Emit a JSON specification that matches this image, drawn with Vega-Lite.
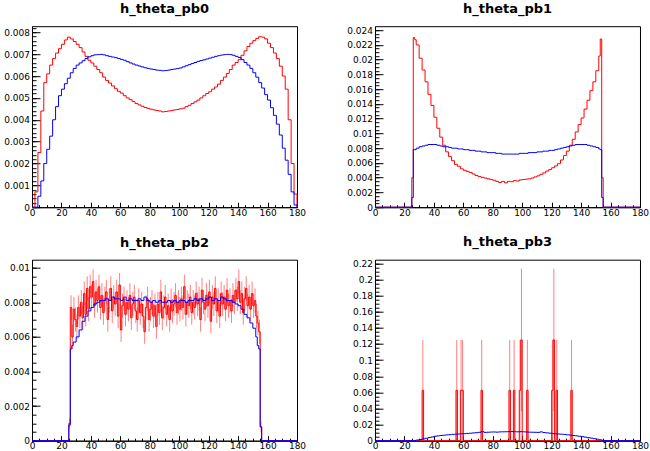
{
"$schema": "https://vega.github.io/schema/vega-lite/v6.json",
"padding": {"left": 3, "top": 2.2, "right": 0, "bottom": 0},
"background": "white",
"config": {
  "view": {"stroke": "#000", "strokeWidth": 1},
  "axis": {"grid": false, "labelFont": "DejaVu Sans", "labelFontSize": 9, "labelColor": "#000", "tickColor": "#000", "domainColor": "#000", "tickWidth": 1, "domainWidth": 1, "labelFlush": false, "labelOverlap": false},
  "title": {"font": "DejaVu Sans", "fontSize": 13, "fontWeight": "bold", "color": "#000", "offset": 10, "baseline": "alphabetic", "anchor": "middle"}
},
"datasets": {
  "p0r": [{"x":0,"y":0},{"x":2,"y":0.0007},{"x":4,"y":0.0025},{"x":6,"y":0.0044},{"x":8,"y":0.0057},{"x":10,"y":0.0061},{"x":12,"y":0.0065},{"x":14,"y":0.0068},{"x":16,"y":0.00705},{"x":18,"y":0.00725},{"x":20,"y":0.00745},{"x":22,"y":0.00765},{"x":24,"y":0.00778},{"x":26,"y":0.0077},{"x":28,"y":0.00758},{"x":30,"y":0.00745},{"x":32,"y":0.0073},{"x":34,"y":0.0071},{"x":36,"y":0.0069},{"x":38,"y":0.00672},{"x":40,"y":0.0066},{"x":42,"y":0.00645},{"x":44,"y":0.0063},{"x":46,"y":0.00615},{"x":48,"y":0.00595},{"x":50,"y":0.0058},{"x":52,"y":0.00568},{"x":54,"y":0.00555},{"x":56,"y":0.00542},{"x":58,"y":0.0053},{"x":60,"y":0.00522},{"x":62,"y":0.0051},{"x":64,"y":0.005},{"x":66,"y":0.00492},{"x":68,"y":0.00483},{"x":70,"y":0.00474},{"x":72,"y":0.00468},{"x":74,"y":0.00462},{"x":76,"y":0.00456},{"x":78,"y":0.00452},{"x":80,"y":0.00448},{"x":82,"y":0.00445},{"x":84,"y":0.00442},{"x":86,"y":0.0044},{"x":88,"y":0.00436},{"x":90,"y":0.00438},{"x":92,"y":0.0044},{"x":94,"y":0.00442},{"x":96,"y":0.00445},{"x":98,"y":0.00447},{"x":100,"y":0.0045},{"x":102,"y":0.00453},{"x":104,"y":0.0046},{"x":106,"y":0.00466},{"x":108,"y":0.00474},{"x":110,"y":0.00482},{"x":112,"y":0.0049},{"x":114,"y":0.005},{"x":116,"y":0.0051},{"x":118,"y":0.0052},{"x":120,"y":0.00528},{"x":122,"y":0.0054},{"x":124,"y":0.0055},{"x":126,"y":0.00563},{"x":128,"y":0.0058},{"x":130,"y":0.00595},{"x":132,"y":0.00612},{"x":134,"y":0.0063},{"x":136,"y":0.0065},{"x":138,"y":0.00662},{"x":140,"y":0.00675},{"x":142,"y":0.00695},{"x":144,"y":0.00715},{"x":146,"y":0.00735},{"x":148,"y":0.0075},{"x":150,"y":0.00762},{"x":152,"y":0.00772},{"x":154,"y":0.0078},{"x":156,"y":0.00778},{"x":158,"y":0.0077},{"x":160,"y":0.0075},{"x":162,"y":0.0073},{"x":164,"y":0.00705},{"x":166,"y":0.0068},{"x":168,"y":0.00645},{"x":170,"y":0.006},{"x":172,"y":0.0054},{"x":174,"y":0.004},{"x":176,"y":0.002},{"x":178,"y":0.0006},{"x":180,"y":0}],
  "p0b": [{"x":0,"y":0},{"x":2,"y":0},{"x":4,"y":0.0005},{"x":6,"y":0.0012},{"x":8,"y":0.002},{"x":10,"y":0.00265},{"x":12,"y":0.00325},{"x":14,"y":0.004},{"x":16,"y":0.0046},{"x":18,"y":0.0051},{"x":20,"y":0.0054},{"x":22,"y":0.00565},{"x":24,"y":0.0059},{"x":26,"y":0.00615},{"x":28,"y":0.00635},{"x":30,"y":0.0065},{"x":32,"y":0.0066},{"x":34,"y":0.0067},{"x":36,"y":0.0068},{"x":38,"y":0.00688},{"x":40,"y":0.00693},{"x":42,"y":0.00697},{"x":44,"y":0.00698},{"x":46,"y":0.00699},{"x":48,"y":0.00697},{"x":50,"y":0.00693},{"x":52,"y":0.0069},{"x":54,"y":0.00687},{"x":56,"y":0.00684},{"x":58,"y":0.0068},{"x":60,"y":0.00676},{"x":62,"y":0.00672},{"x":64,"y":0.00666},{"x":66,"y":0.0066},{"x":68,"y":0.00655},{"x":70,"y":0.0065},{"x":72,"y":0.00646},{"x":74,"y":0.00642},{"x":76,"y":0.00638},{"x":78,"y":0.00635},{"x":80,"y":0.00632},{"x":82,"y":0.0063},{"x":84,"y":0.00627},{"x":86,"y":0.00626},{"x":88,"y":0.00624},{"x":90,"y":0.00625},{"x":92,"y":0.00627},{"x":94,"y":0.0063},{"x":96,"y":0.00632},{"x":98,"y":0.00634},{"x":100,"y":0.00637},{"x":102,"y":0.00642},{"x":104,"y":0.00647},{"x":106,"y":0.00652},{"x":108,"y":0.00657},{"x":110,"y":0.00662},{"x":112,"y":0.00667},{"x":114,"y":0.00671},{"x":116,"y":0.00674},{"x":118,"y":0.00678},{"x":120,"y":0.00682},{"x":122,"y":0.00686},{"x":124,"y":0.0069},{"x":126,"y":0.00693},{"x":128,"y":0.00696},{"x":130,"y":0.00698},{"x":132,"y":0.00699},{"x":134,"y":0.00698},{"x":136,"y":0.00695},{"x":138,"y":0.0069},{"x":140,"y":0.00685},{"x":142,"y":0.00675},{"x":144,"y":0.00662},{"x":146,"y":0.0065},{"x":148,"y":0.00635},{"x":150,"y":0.00615},{"x":152,"y":0.00595},{"x":154,"y":0.0057},{"x":156,"y":0.00545},{"x":158,"y":0.00515},{"x":160,"y":0.0049},{"x":162,"y":0.00455},{"x":164,"y":0.0042},{"x":166,"y":0.0038},{"x":168,"y":0.0033},{"x":170,"y":0.0027},{"x":172,"y":0.00215},{"x":174,"y":0.0015},{"x":176,"y":0.0007},{"x":178,"y":0.0001},{"x":180,"y":0}],
  "p1r": [{"x":0,"y":0},{"x":25,"y":0.004},{"x":26,"y":0.023},{"x":27,"y":0.0227},{"x":28,"y":0.022},{"x":30,"y":0.0202},{"x":32,"y":0.0186},{"x":34,"y":0.017},{"x":36,"y":0.0153},{"x":38,"y":0.0138},{"x":40,"y":0.0122},{"x":42,"y":0.0107},{"x":44,"y":0.0095},{"x":46,"y":0.0084},{"x":48,"y":0.0075},{"x":50,"y":0.00685},{"x":52,"y":0.0063},{"x":54,"y":0.0058},{"x":56,"y":0.00555},{"x":58,"y":0.0052},{"x":60,"y":0.005},{"x":62,"y":0.00485},{"x":64,"y":0.0047},{"x":66,"y":0.0045},{"x":68,"y":0.0043},{"x":70,"y":0.00415},{"x":72,"y":0.00405},{"x":74,"y":0.00395},{"x":76,"y":0.00385},{"x":78,"y":0.00375},{"x":80,"y":0.00365},{"x":82,"y":0.0035},{"x":84,"y":0.00335},{"x":86,"y":0.0035},{"x":88,"y":0.0033},{"x":90,"y":0.0035},{"x":92,"y":0.00345},{"x":94,"y":0.0036},{"x":96,"y":0.00355},{"x":98,"y":0.0037},{"x":100,"y":0.00375},{"x":102,"y":0.0038},{"x":104,"y":0.00385},{"x":106,"y":0.00395},{"x":108,"y":0.0041},{"x":110,"y":0.00425},{"x":112,"y":0.00445},{"x":114,"y":0.00465},{"x":116,"y":0.0049},{"x":118,"y":0.0051},{"x":120,"y":0.00535},{"x":122,"y":0.0056},{"x":124,"y":0.0059},{"x":126,"y":0.0064},{"x":128,"y":0.007},{"x":130,"y":0.0076},{"x":132,"y":0.0084},{"x":134,"y":0.0092},{"x":136,"y":0.0102},{"x":138,"y":0.0112},{"x":140,"y":0.0121},{"x":142,"y":0.0133},{"x":144,"y":0.0145},{"x":146,"y":0.0158},{"x":148,"y":0.017},{"x":150,"y":0.0185},{"x":152,"y":0.0205},{"x":153,"y":0.0228},{"x":154,"y":0.004},{"x":155,"y":0},{"x":180,"y":0}],
  "p1b": [{"x":0,"y":0},{"x":25,"y":0.0013},{"x":26,"y":0.0078},{"x":28,"y":0.008},{"x":30,"y":0.0082},{"x":32,"y":0.0083},{"x":34,"y":0.0084},{"x":36,"y":0.0085},{"x":38,"y":0.0085},{"x":40,"y":0.0085},{"x":42,"y":0.0084},{"x":44,"y":0.0083},{"x":46,"y":0.0082},{"x":48,"y":0.0082},{"x":50,"y":0.0081},{"x":52,"y":0.008},{"x":54,"y":0.008},{"x":56,"y":0.0079},{"x":58,"y":0.0079},{"x":60,"y":0.0078},{"x":62,"y":0.0078},{"x":64,"y":0.0077},{"x":66,"y":0.0077},{"x":68,"y":0.0076},{"x":70,"y":0.0076},{"x":72,"y":0.0075},{"x":74,"y":0.0075},{"x":76,"y":0.0074},{"x":78,"y":0.0074},{"x":80,"y":0.0074},{"x":82,"y":0.0073},{"x":84,"y":0.0073},{"x":86,"y":0.0072},{"x":88,"y":0.0072},{"x":90,"y":0.0072},{"x":92,"y":0.0072},{"x":94,"y":0.0072},{"x":96,"y":0.0072},{"x":98,"y":0.0073},{"x":100,"y":0.0073},{"x":102,"y":0.0073},{"x":104,"y":0.0074},{"x":106,"y":0.0074},{"x":108,"y":0.0074},{"x":110,"y":0.0075},{"x":112,"y":0.0075},{"x":114,"y":0.0076},{"x":116,"y":0.0076},{"x":118,"y":0.0077},{"x":120,"y":0.0077},{"x":122,"y":0.0078},{"x":124,"y":0.0079},{"x":126,"y":0.008},{"x":128,"y":0.0081},{"x":130,"y":0.0082},{"x":132,"y":0.0083},{"x":134,"y":0.0084},{"x":136,"y":0.0085},{"x":138,"y":0.0085},{"x":140,"y":0.0085},{"x":142,"y":0.0085},{"x":144,"y":0.0084},{"x":146,"y":0.0083},{"x":148,"y":0.0082},{"x":150,"y":0.0081},{"x":152,"y":0.0079},{"x":153,"y":0.0078},{"x":154,"y":0.0013},{"x":155,"y":0},{"x":180,"y":0}],
  "p2b": [{"x":0,"y":0},{"x":25,"y":0.0009},{"x":26,"y":0.0053},{"x":27,"y":0.0055},{"x":28,"y":0.0057},{"x":30,"y":0.006},{"x":32,"y":0.0064},{"x":34,"y":0.0069},{"x":36,"y":0.0072},{"x":38,"y":0.0075},{"x":40,"y":0.0077},{"x":42,"y":0.0079},{"x":44,"y":0.008},{"x":46,"y":0.0081},{"x":48,"y":0.0081},{"x":50,"y":0.0082},{"x":52,"y":0.0081},{"x":54,"y":0.0083},{"x":56,"y":0.0082},{"x":58,"y":0.0082},{"x":60,"y":0.0081},{"x":62,"y":0.0083},{"x":64,"y":0.0081},{"x":66,"y":0.0082},{"x":68,"y":0.0081},{"x":70,"y":0.0081},{"x":72,"y":0.0082},{"x":74,"y":0.0081},{"x":76,"y":0.0083},{"x":78,"y":0.0081},{"x":80,"y":0.008},{"x":82,"y":0.0081},{"x":84,"y":0.008},{"x":86,"y":0.0081},{"x":88,"y":0.008},{"x":90,"y":0.008},{"x":92,"y":0.0081},{"x":94,"y":0.008},{"x":96,"y":0.0081},{"x":98,"y":0.008},{"x":100,"y":0.0081},{"x":102,"y":0.0081},{"x":104,"y":0.008},{"x":106,"y":0.0081},{"x":108,"y":0.0081},{"x":110,"y":0.0082},{"x":112,"y":0.0081},{"x":114,"y":0.0082},{"x":116,"y":0.0081},{"x":118,"y":0.0082},{"x":120,"y":0.0083},{"x":122,"y":0.0081},{"x":124,"y":0.0082},{"x":126,"y":0.0081},{"x":128,"y":0.0083},{"x":130,"y":0.0082},{"x":132,"y":0.0081},{"x":134,"y":0.0081},{"x":136,"y":0.008},{"x":138,"y":0.0079},{"x":140,"y":0.0078},{"x":142,"y":0.0076},{"x":144,"y":0.0073},{"x":146,"y":0.0071},{"x":148,"y":0.0068},{"x":150,"y":0.0065},{"x":152,"y":0.006},{"x":153,"y":0.0055},{"x":154,"y":0.0053},{"x":155,"y":0.0008},{"x":156,"y":0},{"x":180,"y":0}],
  "p2r": [{"x":0.5,"y":0,"e":0},{"x":24.5,"y":0,"e":0},{"x":25.5,"y":0.001,"e":0.0003},{"x":26.5,"y":0.0077,"e":0.0007},{"x":27.5,"y":0.006,"e":0.0007},{"x":28.5,"y":0.0076,"e":0.0007},{"x":29.5,"y":0.007,"e":0.0007},{"x":30.5,"y":0.0066,"e":0.0007},{"x":31.5,"y":0.0077,"e":0.0007},{"x":32.5,"y":0.0072,"e":0.0007},{"x":33.5,"y":0.008,"e":0.0007},{"x":34.5,"y":0.0071,"e":0.0007},{"x":35.5,"y":0.0085,"e":0.0007},{"x":36.5,"y":0.0073,"e":0.0007},{"x":37.5,"y":0.0088,"e":0.0007},{"x":38.5,"y":0.0076,"e":0.0007},{"x":39.5,"y":0.0089,"e":0.0007},{"x":40.5,"y":0.0083,"e":0.0007},{"x":41.5,"y":0.0092,"e":0.0007},{"x":42.5,"y":0.0078,"e":0.0007},{"x":43.5,"y":0.0086,"e":0.0007},{"x":44.5,"y":0.0081,"e":0.0007},{"x":45.5,"y":0.0089,"e":0.0007},{"x":46.5,"y":0.0077,"e":0.0007},{"x":47.5,"y":0.0084,"e":0.0007},{"x":48.5,"y":0.0074,"e":0.0007},{"x":49.5,"y":0.0082,"e":0.0007},{"x":50.5,"y":0.0086,"e":0.0007},{"x":51.5,"y":0.007,"e":0.0007},{"x":52.5,"y":0.0081,"e":0.0007},{"x":53.5,"y":0.0088,"e":0.0007},{"x":54.5,"y":0.0075,"e":0.0007},{"x":55.5,"y":0.0083,"e":0.0007},{"x":56.5,"y":0.0079,"e":0.0007},{"x":57.5,"y":0.0086,"e":0.0007},{"x":58.5,"y":0.0072,"e":0.0007},{"x":59.5,"y":0.009,"e":0.0007},{"x":60.5,"y":0.0064,"e":0.0007},{"x":61.5,"y":0.0078,"e":0.0007},{"x":62.5,"y":0.0082,"e":0.0007},{"x":63.5,"y":0.0073,"e":0.0007},{"x":64.5,"y":0.008,"e":0.0007},{"x":65.5,"y":0.0076,"e":0.0007},{"x":66.5,"y":0.0084,"e":0.0007},{"x":67.5,"y":0.0071,"e":0.0007},{"x":68.5,"y":0.0079,"e":0.0007},{"x":69.5,"y":0.0083,"e":0.0007},{"x":70.5,"y":0.0075,"e":0.0007},{"x":71.5,"y":0.007,"e":0.0007},{"x":72.5,"y":0.0081,"e":0.0007},{"x":73.5,"y":0.0074,"e":0.0007},{"x":74.5,"y":0.0079,"e":0.0007},{"x":75.5,"y":0.0072,"e":0.0007},{"x":76.5,"y":0.0063,"e":0.0007},{"x":77.5,"y":0.0077,"e":0.0007},{"x":78.5,"y":0.0082,"e":0.0007},{"x":79.5,"y":0.007,"e":0.0007},{"x":80.5,"y":0.0076,"e":0.0007},{"x":81.5,"y":0.008,"e":0.0007},{"x":82.5,"y":0.0072,"e":0.0007},{"x":83.5,"y":0.0078,"e":0.0007},{"x":84.5,"y":0.0066,"e":0.0007},{"x":85.5,"y":0.0079,"e":0.0007},{"x":86.5,"y":0.0074,"e":0.0007},{"x":87.5,"y":0.0086,"e":0.0007},{"x":88.5,"y":0.0071,"e":0.0007},{"x":89.5,"y":0.0077,"e":0.0007},{"x":90.5,"y":0.0083,"e":0.0007},{"x":91.5,"y":0.0073,"e":0.0007},{"x":92.5,"y":0.0078,"e":0.0007},{"x":93.5,"y":0.007,"e":0.0007},{"x":94.5,"y":0.0081,"e":0.0007},{"x":95.5,"y":0.0075,"e":0.0007},{"x":96.5,"y":0.0079,"e":0.0007},{"x":97.5,"y":0.0084,"e":0.0007},{"x":98.5,"y":0.0074,"e":0.0007},{"x":99.5,"y":0.008,"e":0.0007},{"x":100.5,"y":0.0076,"e":0.0007},{"x":101.5,"y":0.0082,"e":0.0007},{"x":102.5,"y":0.0077,"e":0.0007},{"x":103.5,"y":0.0089,"e":0.0007},{"x":104.5,"y":0.0073,"e":0.0007},{"x":105.5,"y":0.008,"e":0.0007},{"x":106.5,"y":0.0078,"e":0.0007},{"x":107.5,"y":0.0083,"e":0.0007},{"x":108.5,"y":0.0074,"e":0.0007},{"x":109.5,"y":0.008,"e":0.0007},{"x":110.5,"y":0.0077,"e":0.0007},{"x":111.5,"y":0.0085,"e":0.0007},{"x":112.5,"y":0.0079,"e":0.0007},{"x":113.5,"y":0.0082,"e":0.0007},{"x":114.5,"y":0.007,"e":0.0007},{"x":115.5,"y":0.0087,"e":0.0007},{"x":116.5,"y":0.008,"e":0.0007},{"x":117.5,"y":0.0076,"e":0.0007},{"x":118.5,"y":0.0084,"e":0.0007},{"x":119.5,"y":0.0078,"e":0.0007},{"x":120.5,"y":0.0086,"e":0.0007},{"x":121.5,"y":0.0069,"e":0.0007},{"x":122.5,"y":0.0083,"e":0.0007},{"x":123.5,"y":0.0079,"e":0.0007},{"x":124.5,"y":0.0088,"e":0.0007},{"x":125.5,"y":0.0075,"e":0.0007},{"x":126.5,"y":0.0081,"e":0.0007},{"x":127.5,"y":0.0072,"e":0.0007},{"x":128.5,"y":0.0085,"e":0.0007},{"x":129.5,"y":0.0079,"e":0.0007},{"x":130.5,"y":0.0083,"e":0.0007},{"x":131.5,"y":0.0076,"e":0.0007},{"x":132.5,"y":0.0087,"e":0.0007},{"x":133.5,"y":0.0078,"e":0.0007},{"x":134.5,"y":0.0081,"e":0.0007},{"x":135.5,"y":0.0075,"e":0.0007},{"x":136.5,"y":0.0084,"e":0.0007},{"x":137.5,"y":0.008,"e":0.0007},{"x":138.5,"y":0.0087,"e":0.0007},{"x":139.5,"y":0.0082,"e":0.0007},{"x":140.5,"y":0.0092,"e":0.0007},{"x":141.5,"y":0.008,"e":0.0007},{"x":142.5,"y":0.0085,"e":0.0007},{"x":143.5,"y":0.0074,"e":0.0007},{"x":144.5,"y":0.0082,"e":0.0007},{"x":145.5,"y":0.0088,"e":0.0007},{"x":146.5,"y":0.0078,"e":0.0007},{"x":147.5,"y":0.0083,"e":0.0007},{"x":148.5,"y":0.0076,"e":0.0007},{"x":149.5,"y":0.0085,"e":0.0007},{"x":150.5,"y":0.0078,"e":0.0007},{"x":151.5,"y":0.0081,"e":0.0007},{"x":152.5,"y":0.0072,"e":0.0007},{"x":153.5,"y":0.0068,"e":0.0007},{"x":154.5,"y":0.0063,"e":0.0007},{"x":155.5,"y":0.0008,"e":0.0003},{"x":156.5,"y":0,"e":0},{"x":179.5,"y":0,"e":0}],
  "p3r": [{"x":0,"y":0},{"x":32,"y":0.0625},{"x":33,"y":0},{"x":55,"y":0.0625},{"x":56,"y":0},{"x":58,"y":0.0625},{"x":60,"y":0},{"x":72,"y":0.0625},{"x":73,"y":0},{"x":91,"y":0.0625},{"x":92,"y":0},{"x":94,"y":0.0625},{"x":95,"y":0},{"x":98,"y":0.0625},{"x":99,"y":0.125},{"x":100,"y":0},{"x":103,"y":0.0625},{"x":104,"y":0},{"x":120,"y":0.0625},{"x":121,"y":0.125},{"x":122,"y":0},{"x":123,"y":0.0625},{"x":124,"y":0},{"x":133,"y":0.0625},{"x":134,"y":0},{"x":180,"y":0}],
  "p3e": [{"x":32.5,"y":0.0625,"e":0.0625},{"x":55.5,"y":0.0625,"e":0.0625},{"x":58.5,"y":0.0625,"e":0.0625},{"x":59.5,"y":0.0625,"e":0.0625},{"x":72.5,"y":0.0625,"e":0.0625},{"x":91.5,"y":0.0625,"e":0.0625},{"x":94.5,"y":0.0625,"e":0.0625},{"x":98.5,"y":0.0625,"e":0.0625},{"x":99.5,"y":0.125,"e":0.0884},{"x":103.5,"y":0.0625,"e":0.0625},{"x":120.5,"y":0.0625,"e":0.0625},{"x":121.5,"y":0.125,"e":0.0884},{"x":123.5,"y":0.0625,"e":0.0625},{"x":133.5,"y":0.0625,"e":0.0625}],
  "p3b": [{"x":0,"y":0},{"x":24,"y":0},{"x":26,"y":0.0003},{"x":28,"y":0.0008},{"x":30,"y":0.0015},{"x":32,"y":0.0022},{"x":34,"y":0.003},{"x":36,"y":0.0038},{"x":38,"y":0.0046},{"x":40,"y":0.0055},{"x":42,"y":0.006},{"x":44,"y":0.0064},{"x":46,"y":0.0068},{"x":48,"y":0.0072},{"x":50,"y":0.0075},{"x":52,"y":0.0078},{"x":54,"y":0.008},{"x":56,"y":0.0083},{"x":58,"y":0.0085},{"x":60,"y":0.0087},{"x":62,"y":0.009},{"x":64,"y":0.0093},{"x":66,"y":0.0096},{"x":68,"y":0.0099},{"x":70,"y":0.0104},{"x":72,"y":0.0112},{"x":74,"y":0.0103},{"x":76,"y":0.0105},{"x":78,"y":0.0107},{"x":80,"y":0.0108},{"x":82,"y":0.0106},{"x":84,"y":0.0109},{"x":86,"y":0.011},{"x":88,"y":0.0111},{"x":90,"y":0.0112},{"x":92,"y":0.0113},{"x":94,"y":0.0111},{"x":96,"y":0.011},{"x":98,"y":0.0112},{"x":100,"y":0.011},{"x":102,"y":0.0108},{"x":104,"y":0.0106},{"x":106,"y":0.0105},{"x":108,"y":0.0104},{"x":110,"y":0.0103},{"x":112,"y":0.0109},{"x":114,"y":0.0101},{"x":116,"y":0.0097},{"x":118,"y":0.0093},{"x":120,"y":0.0088},{"x":122,"y":0.0085},{"x":124,"y":0.0083},{"x":126,"y":0.008},{"x":128,"y":0.0077},{"x":130,"y":0.0073},{"x":132,"y":0.0069},{"x":134,"y":0.0064},{"x":136,"y":0.006},{"x":138,"y":0.0055},{"x":140,"y":0.005},{"x":142,"y":0.0044},{"x":144,"y":0.0038},{"x":146,"y":0.0032},{"x":148,"y":0.0025},{"x":150,"y":0.0019},{"x":152,"y":0.0012},{"x":154,"y":0.0004},{"x":156,"y":0},{"x":180,"y":0}]
},
"columns": 2,
"spacing": {"row": 52.5, "column": 78},
"bounds": "flush",
"concat": [
  {
    "width": 265, "height": 181,
    "title": {"text": "h_theta_pb0"},
    "resolve": {"axis": {"x": "independent", "y": "independent"}},
    "layer": [
      {"data": {"name": "p0r"}, "mark": {"type": "line", "interpolate": "step-after", "color": "#ff0000", "strokeWidth": 1},
       "encoding": {
         "x": {"field": "x", "type": "quantitative", "scale": {"domain": [0, 180], "nice": false, "zero": false}, "axis": {"orient": "bottom", "title": null, "values": [0,5,10,15,20,25,30,35,40,45,50,55,60,65,70,75,80,85,90,95,100,105,110,115,120,125,130,135,140,145,150,155,160,165,170,175,180], "labels": false, "domain": false, "tickSize": -2.5}},
         "y": {"field": "y", "type": "quantitative", "scale": {"domain": [0, 0.00828], "nice": false}, "axis": {"orient": "left", "title": null, "values": [0,0.0002,0.0004,0.0006,0.0008,0.001,0.0012,0.0014,0.0016,0.0018,0.002,0.0022,0.0024,0.0026,0.0028,0.003,0.0032,0.0034,0.0036,0.0038,0.004,0.0042,0.0044,0.0046,0.0048,0.005,0.0052,0.0054,0.0056,0.0058,0.006,0.0062,0.0064,0.0066,0.0068,0.007,0.0072,0.0074,0.0076,0.0078,0.008,0.0082], "labels": false, "domain": false, "tickSize": -4}}
       }},
      {"data": {"name": "p0b"}, "mark": {"type": "line", "interpolate": "step-after", "color": "#0000ff", "strokeWidth": 1},
       "encoding": {
         "x": {"field": "x", "type": "quantitative", "axis": {"orient": "bottom", "title": null, "values": [0,20,40,60,80,100,120,140,160,180], "tickSize": -5, "labelPadding": 6}},
         "y": {"field": "y", "type": "quantitative", "axis": {"orient": "left", "title": null, "values": [0,0.001,0.002,0.003,0.004,0.005,0.006,0.007,0.008], "format": "~g", "tickSize": -8, "labelPadding": 10.5}}
       }}
    ]
  },
  {
    "width": 265, "height": 181,
    "title": {"text": "h_theta_pb1"},
    "resolve": {"axis": {"x": "independent", "y": "independent"}},
    "layer": [
      {"data": {"name": "p1r"}, "mark": {"type": "line", "interpolate": "step-after", "color": "#ff0000", "strokeWidth": 1},
       "encoding": {
         "x": {"field": "x", "type": "quantitative", "scale": {"domain": [0, 180], "nice": false, "zero": false}, "axis": {"orient": "bottom", "title": null, "values": [0,5,10,15,20,25,30,35,40,45,50,55,60,65,70,75,80,85,90,95,100,105,110,115,120,125,130,135,140,145,150,155,160,165,170,175,180], "labels": false, "domain": false, "tickSize": -2.5}},
         "y": {"field": "y", "type": "quantitative", "scale": {"domain": [0, 0.02454], "nice": false}, "axis": {"orient": "left", "title": null, "values": [0,0.0005,0.001,0.0015,0.002,0.0025,0.003,0.0035,0.004,0.0045,0.005,0.0055,0.006,0.0065,0.007,0.0075,0.008,0.0085,0.009,0.0095,0.01,0.0105,0.011,0.0115,0.012,0.0125,0.013,0.0135,0.014,0.0145,0.015,0.0155,0.016,0.0165,0.017,0.0175,0.018,0.0185,0.019,0.0195,0.02,0.0205,0.021,0.0215,0.022,0.0225,0.023,0.0235,0.024], "labels": false, "domain": false, "tickSize": -4}}
       }},
      {"data": {"name": "p1b"}, "mark": {"type": "line", "interpolate": "step-after", "color": "#0000ff", "strokeWidth": 1},
       "encoding": {
         "x": {"field": "x", "type": "quantitative", "axis": {"orient": "bottom", "title": null, "values": [0,20,40,60,80,100,120,140,160,180], "tickSize": -5, "labelPadding": 6}},
         "y": {"field": "y", "type": "quantitative", "axis": {"orient": "left", "title": null, "values": [0,0.002,0.004,0.006,0.008,0.01,0.012,0.014,0.016,0.018,0.02,0.022,0.024], "format": "~g", "tickSize": -8, "labelPadding": 10.5}}
       }}
    ]
  },
  {
    "width": 265, "height": 181,
    "title": {"text": "h_theta_pb2"},
    "resolve": {"axis": {"x": "independent", "y": "independent"}},
    "layer": [
      {"data": {"name": "p2r"}, "mark": {"type": "errorbar", "color": "#ff8080"},
       "encoding": {
         "x": {"field": "x", "type": "quantitative", "scale": {"domain": [0, 180], "nice": false, "zero": false}, "axis": null},
         "y": {"field": "y", "type": "quantitative", "scale": {"domain": [0, 0.01046], "nice": false}, "axis": null},
         "yError": {"field": "e"}
       }},
      {"data": {"name": "p2r"}, "mark": {"type": "line", "interpolate": "step", "color": "#ff0000", "strokeWidth": 1},
       "encoding": {
         "x": {"field": "x", "type": "quantitative", "axis": {"orient": "bottom", "title": null, "values": [0,5,10,15,20,25,30,35,40,45,50,55,60,65,70,75,80,85,90,95,100,105,110,115,120,125,130,135,140,145,150,155,160,165,170,175,180], "labels": false, "domain": false, "tickSize": -2.5}},
         "y": {"field": "y", "type": "quantitative", "axis": {"orient": "left", "title": null, "values": [0,0.0005,0.001,0.0015,0.002,0.0025,0.003,0.0035,0.004,0.0045,0.005,0.0055,0.006,0.0065,0.007,0.0075,0.008,0.0085,0.009,0.0095,0.01], "labels": false, "domain": false, "tickSize": -4}}
       }},
      {"data": {"name": "p2b"}, "mark": {"type": "line", "interpolate": "step-after", "color": "#0000ff", "strokeWidth": 1},
       "encoding": {
         "x": {"field": "x", "type": "quantitative", "axis": {"orient": "bottom", "title": null, "values": [0,20,40,60,80,100,120,140,160,180], "tickSize": -5, "labelPadding": 6}},
         "y": {"field": "y", "type": "quantitative", "axis": {"orient": "left", "title": null, "values": [0,0.002,0.004,0.006,0.008,0.01], "format": "~g", "tickSize": -8, "labelPadding": 10.5}}
       }}
    ]
  },
  {
    "width": 265, "height": 181,
    "title": {"text": "h_theta_pb3"},
    "resolve": {"axis": {"x": "independent", "y": "independent"}},
    "layer": [
      {"data": {"name": "p3e"}, "mark": {"type": "errorbar", "color": "#ff8080"},
       "encoding": {
         "x": {"field": "x", "type": "quantitative", "scale": {"domain": [0, 180], "nice": false, "zero": false}, "axis": null},
         "y": {"field": "y", "type": "quantitative", "scale": {"domain": [0, 0.2245], "nice": false}, "axis": null},
         "yError": {"field": "e"}
       }},
      {"data": {"name": "p3r"}, "mark": {"type": "line", "interpolate": "step-after", "color": "#ff0000", "strokeWidth": 1},
       "encoding": {
         "x": {"field": "x", "type": "quantitative", "axis": {"orient": "bottom", "title": null, "values": [0,5,10,15,20,25,30,35,40,45,50,55,60,65,70,75,80,85,90,95,100,105,110,115,120,125,130,135,140,145,150,155,160,165,170,175,180], "labels": false, "domain": false, "tickSize": -2.5}},
         "y": {"field": "y", "type": "quantitative", "axis": {"orient": "left", "title": null, "values": [0,0.005,0.01,0.015,0.02,0.025,0.03,0.035,0.04,0.045,0.05,0.055,0.06,0.065,0.07,0.075,0.08,0.085,0.09,0.095,0.1,0.105,0.11,0.115,0.12,0.125,0.13,0.135,0.14,0.145,0.15,0.155,0.16,0.165,0.17,0.175,0.18,0.185,0.19,0.195,0.2,0.205,0.21,0.215,0.22], "labels": false, "domain": false, "tickSize": -4}}
       }},
      {"data": {"name": "p3b"}, "mark": {"type": "line", "interpolate": "step-after", "color": "#0000ff", "strokeWidth": 1},
       "encoding": {
         "x": {"field": "x", "type": "quantitative", "axis": {"orient": "bottom", "title": null, "values": [0,20,40,60,80,100,120,140,160,180], "tickSize": -5, "labelPadding": 6}},
         "y": {"field": "y", "type": "quantitative", "axis": {"orient": "left", "title": null, "values": [0,0.02,0.04,0.06,0.08,0.1,0.12,0.14,0.16,0.18,0.2,0.22], "format": "~g", "tickSize": -8, "labelPadding": 10.5}}
       }}
    ]
  }
]
}
